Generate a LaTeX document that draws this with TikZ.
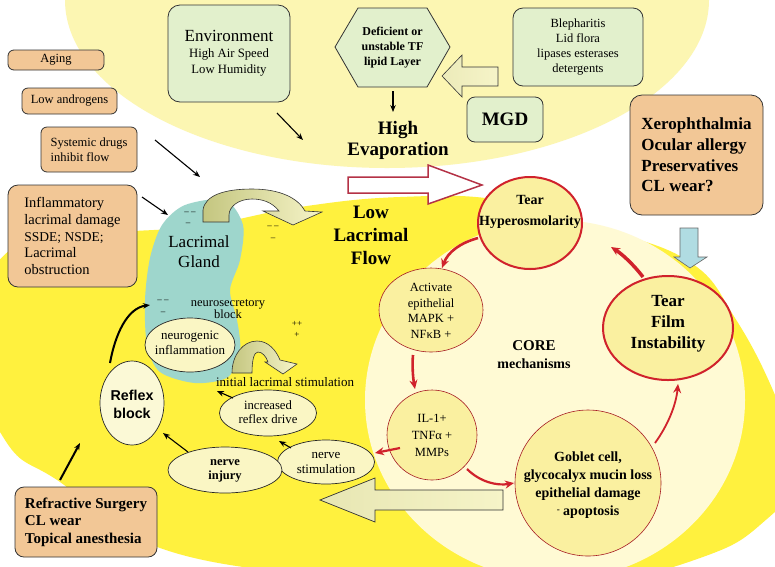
\documentclass[tikz,border=0pt]{standalone}
\usepackage{fontspec}
\setmainfont{Liberation Serif}
\newfontfamily\arialf{Liberation Sans}
\usetikzlibrary{shapes.geometric,arrows.meta}
\definecolor{paleY}{RGB}{252,246,178}
\definecolor{brightY}{RGB}{255,241,62}
\definecolor{creamY}{RGB}{255,250,212}
\definecolor{tealG}{RGB}{158,214,204}
\definecolor{orangeB}{RGB}{242,199,150}
\definecolor{greenB}{RGB}{226,240,204}
\definecolor{redC}{RGB}{208,34,44}
\definecolor{redO}{RGB}{180,50,70}
\definecolor{circF}{RGB}{250,240,160}
\definecolor{ellF}{RGB}{250,246,196}
\definecolor{blueA}{RGB}{176,220,226}
\definecolor{oliveA}{RGB}{196,198,128}
\definecolor{paleA}{RGB}{246,244,200}
\newcommand{\fs}[2]{\fontsize{#1}{#2}\selectfont}
\begin{document}
\begin{tikzpicture}[x=1pt,y=-1pt,
  obox/.style={draw=black!80, line width=0.8pt, rounded corners=6pt, fill=orangeB, inner sep=0pt},
  gbox/.style={draw=black!80, line width=0.8pt, rounded corners=10pt, fill=greenB, inner sep=0pt},
  ell/.style={ellipse, draw=black!85, line width=0.7pt, fill=ellF, inner sep=0pt},
  redc/.style={ellipse, draw=redC, line width=2pt, fill=circF, inner sep=0pt},
  redt/.style={ellipse, draw=redC!80!black, line width=0.6pt, fill=circF, inner sep=0pt},
  blk/.style={-{Stealth[length=7pt,width=5.5pt]}, line width=1.1pt},
  redA/.style={-{Stealth[length=9pt,width=8pt]}, draw=redC, line width=2.6pt},
  curvA/.style={draw=black!80, line width=0.6pt, left color=oliveA, right color=paleA},
  txt/.style={inner sep=0pt, align=center}]
\useasboundingbox (0,0) rectangle (775,566);
\begin{scope}
\clip (0,0) rectangle (775,566);
\fill[white] (0,0) rectangle (775,566);
\fill[paleY] (387,0) ellipse [x radius=322pt, y radius=168pt];
\fill[brightY] plot[smooth cycle, tension=0.7] coordinates {(-30,340) (10,250) (100,234) (200,226) (300,207) (400,197) (500,200) (600,228) (690,262) (735,318) (775,395) (800,470) (760,525) (700,558) (600,582) (460,590) (330,578) (160,548) (60,482) (5,440)};
\fill[creamY] (555,400) ellipse [x radius=190pt, y radius=180pt];
\fill[tealG] plot[smooth cycle] coordinates {(185,205) (225,200) (243,225) (240,260) (230,290) (237,320) (240,350) (228,377) (195,383) (160,372) (147,345) (145,300) (150,258) (162,225)};
\end{scope}
% curved arrows
\draw[curvA] (203,222) -- (203,210) .. controls (205,195) and (225,189) .. (252,189) .. controls (280,189) and (298,198) .. (305,211) -- (322,212) -- (293,225) -- (263,211) -- (279,211) .. controls (272,202) and (262,199) .. (252,199) .. controls (238,199) and (229,207) .. (229,215) -- (229,222) -- cycle;
\draw[curvA] (232,373) .. controls (232,355) and (243,341) .. (257,341) .. controls (268,341) and (276,350) .. (280,360) -- (297,364) -- (283,374) -- (265,362) -- (268,362) .. controls (266,356) and (262,352) .. (258,352) .. controls (254,352) and (252,360) .. (252,373) -- cycle;
% big outline arrows
\draw[draw=redO, line width=1.5pt, fill=white] (348,177) -- (428,177) -- (428,165) -- (482,185) -- (428,204) -- (428,193) -- (348,193) -- cycle;
\draw[draw=black!60, line width=0.6pt, fill=blueA] (680,228) -- (698,228) -- (698,257) -- (707,257) -- (690,268) -- (674,257) -- (680,257) -- cycle;
\draw[draw=black!80, line width=0.6pt, left color=paleA!80!oliveA, right color=paleA] (498,67) -- (462,67) -- (462,55) -- (442,76) -- (462,97) -- (462,86) -- (498,86) -- cycle;
\draw[draw=black!80, line width=0.7pt, left color=paleA!70!oliveA, right color=paleA] (503,490) -- (375,490) -- (375,478) -- (320,500) -- (375,522) -- (375,510) -- (503,510) -- cycle;
% boxes
\node[obox, minimum width=96pt, minimum height=20pt, font=\fs{12.5}{15}] (aging) at (56,60) {Aging};
\node[obox, minimum width=95pt, minimum height=26pt, font=\fs{12.5}{15}] (andro) at (69.5,101) {Low androgens};
\node[obox, minimum width=96pt, minimum height=45pt, align=left, font=\fs{12.5}{15}] (sysd) at (89,149.5) {Systemic drugs\\inhibit flow};
\node[obox, rounded corners=10pt, minimum width=129pt, minimum height=102pt, align=left, font=\fs{14.5}{16.7}] (infl) at (72.5,236) {Inflammatory\\lacrimal damage\\{\fs{13.5}{16.7}SSDE; NSDE;}\\Lacrimal\\obstruction};
\node[obox, rounded corners=9pt, minimum width=142pt, minimum height=70pt, align=left, font=\bfseries\fs{15}{17.5}] (refr) at (86,522) {Refractive Surgery\\CL wear\\Topical anesthesia};
\node[obox, rounded corners=12pt, minimum width=133pt, minimum height=120pt, align=left, font=\bfseries\fs{17}{20.7}] (xero) at (696.5,155) {Xerophthalmia\\Ocular allergy\\Preservatives\\CL wear?};
\node[gbox, rounded corners=12pt, minimum width=122pt, minimum height=97pt, align=center, font=\fs{12.7}{16}] (env) at (229,53.5) {{\fs{17}{17}Environment}\\High Air Speed\\Low Humidity};
\node[gbox, minimum width=130pt, minimum height=78pt, font=\fs{12.5}{15.3}, align=center] (bleph) at (578,47) {Blepharitis\\Lid flora\\lipases esterases\\detergents};
\node[gbox, rounded corners=8pt, minimum width=76pt, minimum height=45pt, font=\bfseries\fs{19}{22}] (mgd) at (505,119.5) {MGD};
\filldraw[fill=greenB, draw=black!80, line width=0.8pt] (335,47) -- (358,8) -- (427,8) -- (450,47) -- (427,87) -- (358,87) -- cycle;
\node[txt, font=\bfseries\fs{12}{15}] (hex) at (392.5,48) {Deficient or\\unstable TF\\lipid Layer};
% titles
\node[txt, font=\bfseries\fs{19}{21}] (hevap) at (398,140) {High\\Evaporation};
\node[txt, font=\bfseries\fs{19}{23}] (lowf) at (371,235) {Low\\Lacrimal\\Flow};
\node[txt, font=\fs{17}{20}] (glandT) at (199,252) {Lacrimal\\Gland};
% circles
\node[redc, minimum width=104pt, minimum height=92pt] (hyper) at (530,223) {};
\node[txt, font=\bfseries\fs{14}{21}] (hyperT) at (530,212) {Tear\\Hyperosmolarity};
\node[redc, minimum width=130pt, minimum height=104pt] (film) at (668,328) {};
\node[txt, font=\bfseries\fs{17}{21}] (filmT) at (668,324) {Tear\\Film\\Instability};
\node[redt, minimum width=104pt, minimum height=84pt] (mapk) at (431,310) {};
\node[txt, font=\fs{12.5}{15.7}] (mapkT) at (431,311) {Activate\\epithelial\\MAPK +\\NFκB +};
\node[redt, minimum size=90pt] (il) at (432,435) {};
\node[txt, font=\fs{12.5}{17}] (ilT) at (432,435) {IL-1+\\TNFα +\\MMPs};
\node[redt, minimum size=146pt] (goblet) at (588,483) {};
\node[txt, font=\bfseries\fs{14}{18}] (gobletT) at (588,485) {Goblet cell,\\glycocalyx mucin loss\\epithelial damage\\{\fs{9}{9}\raisebox{3pt}{-}} apoptosis};
\node[txt, font=\bfseries\fs{15}{18}] (core) at (534,355) {CORE\\{\fs{14}{18}mechanisms}};
% ellipses
\node[ell, minimum width=90pt, minimum height=54pt] (neuro) at (190,345) {};
\node[txt, font=\fs{13}{15}] (neuroT) at (190,343) {neurogenic\\inflammation};
\node[ell, fill=ellF!70!white, minimum width=64pt, minimum height=84pt] (reflex) at (132,403) {};
\node[txt, font=\arialf\bfseries\fs{14.3}{18}] (reflexT) at (132,404) {Reflex\\block};
\node[ell, minimum width=97pt, minimum height=46pt] (incr) at (268,413) {};
\node[txt, font=\fs{12.7}{14}] (incrT) at (268,412) {increased\\reflex drive};
\node[ell, minimum width=97pt, minimum height=44pt] (nstim) at (326,462) {};
\node[txt, font=\fs{13}{15}] (nstimT) at (326,463) {nerve\\stimulation};
\node[ell, minimum width=114pt, minimum height=46pt] (ninj) at (225,470) {};
\node[txt, font=\bfseries\fs{12.5}{14}] (ninjT) at (225,471) {nerve\\injury};
\node[txt, font=\fs{12.5}{12}] (nsb) at (228,309) {neurosecretory\\block};
\node[txt, font=\fs{13}{15}] (ils) at (285,382) {initial lacrimal stimulation};
% dashes and pluses
\node[inner sep=0pt, align=left, font=\fs{9}{11}] (d1) at (190,219) {– –\\\,–};
\node[txt, font=\fs{9}{12}] (d2) at (273,233) {– –\\–};
\node[txt, font=\fs{9}{12}] (d3) at (163,307) {– –\\–};
\node[txt, font=\fs{9}{11}] (pl) at (297,329) {++\\+};
% black arrows
\coordinate (envA) at (277,113); \coordinate (envB) at (303,140);
\coordinate (hexA) at (393,91); \coordinate (hexB) at (393,112);
\coordinate (sysA) at (155,140); \coordinate (sysB) at (200,177);
\coordinate (inflA) at (142,197); \coordinate (inflB) at (168,215);
\coordinate (refA) at (110,363); \coordinate (refB) at (150,305);
\coordinate (rsA) at (60,480); \coordinate (rsB) at (80,443);
\coordinate (niA) at (188,452); \coordinate (niB) at (163,433);
\coordinate (nsA) at (291,448); \coordinate (nsB) at (279,441);
\coordinate (irA) at (233,398); \coordinate (irB) at (217,391);
\draw[blk] (envA) -- (envB);
\draw[blk] (hexA) -- (hexB);
\draw[blk] (sysA) -- (sysB);
\draw[blk] (inflA) -- (inflB);
\draw[blk, line width=2pt] (refA) .. controls (115,335) and (127,308) .. (refB);
\draw[blk, line width=2pt] (rsA) -- (rsB);
\draw[blk] (niA) -- (niB);
\draw[blk] (nsA) -- (nsB);
\draw[blk] (irA) -- (irB);
% red arrows
\coordinate (r1a) at (478,238); \coordinate (r1b) at (442,268);
\coordinate (r2a) at (413,355); \coordinate (r2b) at (415,389);
\coordinate (r3a) at (400,448); \coordinate (r3b) at (375,453);
\coordinate (r4a) at (467,469); \coordinate (r4b) at (514,483);
\coordinate (r5a) at (655,443); \coordinate (r5b) at (678,384);
\coordinate (r6a) at (643,277); \coordinate (r6b) at (611,247);
\draw[redA] (r1a) .. controls (460,243) and (448,252) .. (r1b);
\draw[redA] (r2a) .. controls (412,365) and (413,378) .. (r2b);
\draw[redA, line width=2.2pt] (r3a) -- (r3b);
\draw[redA, line width=2.2pt] (r4a) .. controls (480,482) and (497,486) .. (r4b);
\draw[redA, line width=1.8pt] (r5a) .. controls (668,425) and (676,405) .. (r5b);
\draw[redA, line width=3.5pt] (r6a) .. controls (633,264) and (622,254) .. (r6b);
\end{tikzpicture}
\end{document}
